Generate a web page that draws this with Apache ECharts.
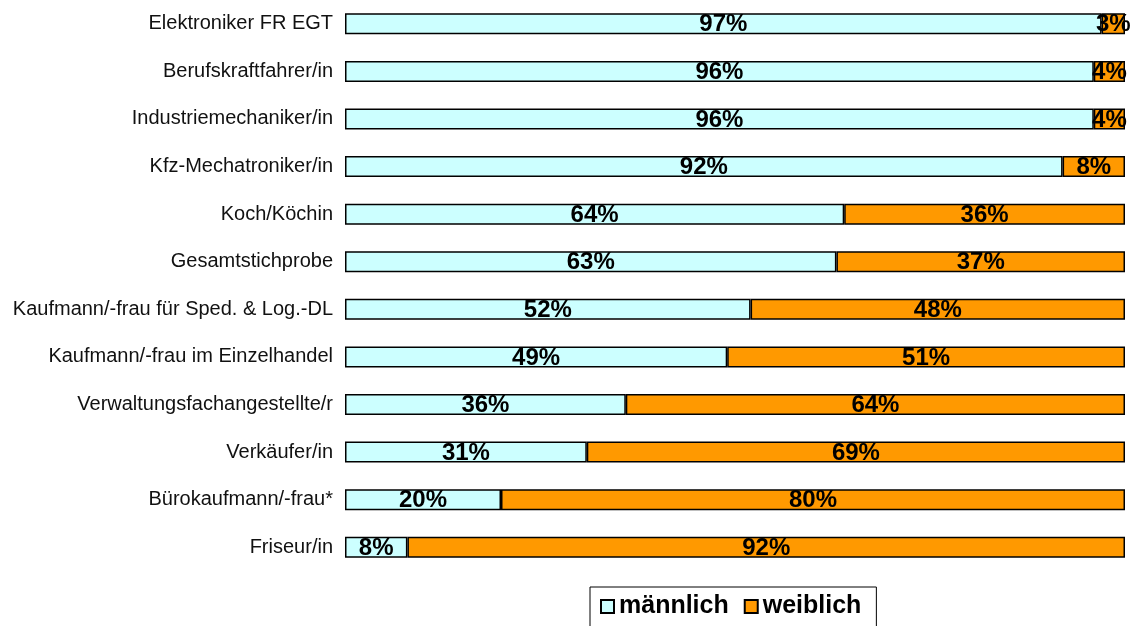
<!DOCTYPE html>
<html>
<head>
<meta charset="utf-8">
<script src="https://cdn.jsdelivr.net/npm/echarts@6/dist/echarts.min.js"></script>
<style>
  html, body { margin: 0; padding: 0; background: #fff; }
  #myChart { width: 1131px; height: 626px; }
</style>
</head>
<body>
<div id="myChart"></div>
<script>
// Berufe, von oben nach unten
const categories = [
  "Elektroniker FR EGT",
  "Berufskraftfahrer/in",
  "Industriemechaniker/in",
  "Kfz-Mechatroniker/in",
  "Koch/Köchin",
  "Gesamtstichprobe",
  "Kaufmann/-frau für Sped. & Log.-DL",
  "Kaufmann/-frau im Einzelhandel",
  "Verwaltungsfachangestellte/r",
  "Verkäufer/in",
  "Bürokaufmann/-frau*",
  "Friseur/in"
];
const maennlich = [97, 96, 96, 92, 64, 63, 52, 49, 36, 31, 20, 8];
const weiblich = [3, 4, 4, 8, 36, 37, 48, 51, 64, 69, 80, 92];

const labelStyle = {
  show: true,
  position: "inside",
  formatter: "{c}%",
  color: "#000",
  fontFamily: "Liberation Sans, Arial, sans-serif",
  fontWeight: "bold",
  fontSize: 24,
  offset: [0, 1]
};

let myChart = echarts.init(document.getElementById("myChart"));
myChart.setOption({
  animation: false,
  textStyle: { fontFamily: "Liberation Sans, Arial, sans-serif" },
  grid: { left: 345, right: 6, top: -2, bottom: 55, containLabel: false },
  xAxis: {
    type: "value",
    min: 0,
    max: 100,
    show: false
  },
  yAxis: {
    type: "category",
    inverse: true,
    data: categories,
    axisLine: { show: false },
    axisTick: { show: false },
    axisLabel: { color: "#111", fontSize: 20, margin: 12, padding: [0, 0, 3, 0] }
  },
  legend: {
    left: 590,
    top: 587,
    padding: [7, 15, 12, 10],
    borderColor: "#000",
    borderWidth: 1,
    itemWidth: 13,
    itemHeight: 13,
    itemGap: 15,
    icon: "rect",
    textStyle: { color: "#000", fontSize: 25, fontWeight: "bold" },
    data: ["männlich", "weiblich"]
  },
  series: [
    {
      name: "männlich",
      type: "bar",
      stack: "total",
      barWidth: 21,
      data: maennlich,
      itemStyle: { color: "#CCFFFF", borderColor: "#000", borderWidth: 1.5 },
      label: labelStyle
    },
    {
      name: "weiblich",
      type: "bar",
      stack: "total",
      barWidth: 21,
      data: weiblich,
      itemStyle: { color: "#FF9900", borderColor: "#000", borderWidth: 1.5 },
      label: labelStyle
    }
  ]
});
</script>
</body>
</html>
